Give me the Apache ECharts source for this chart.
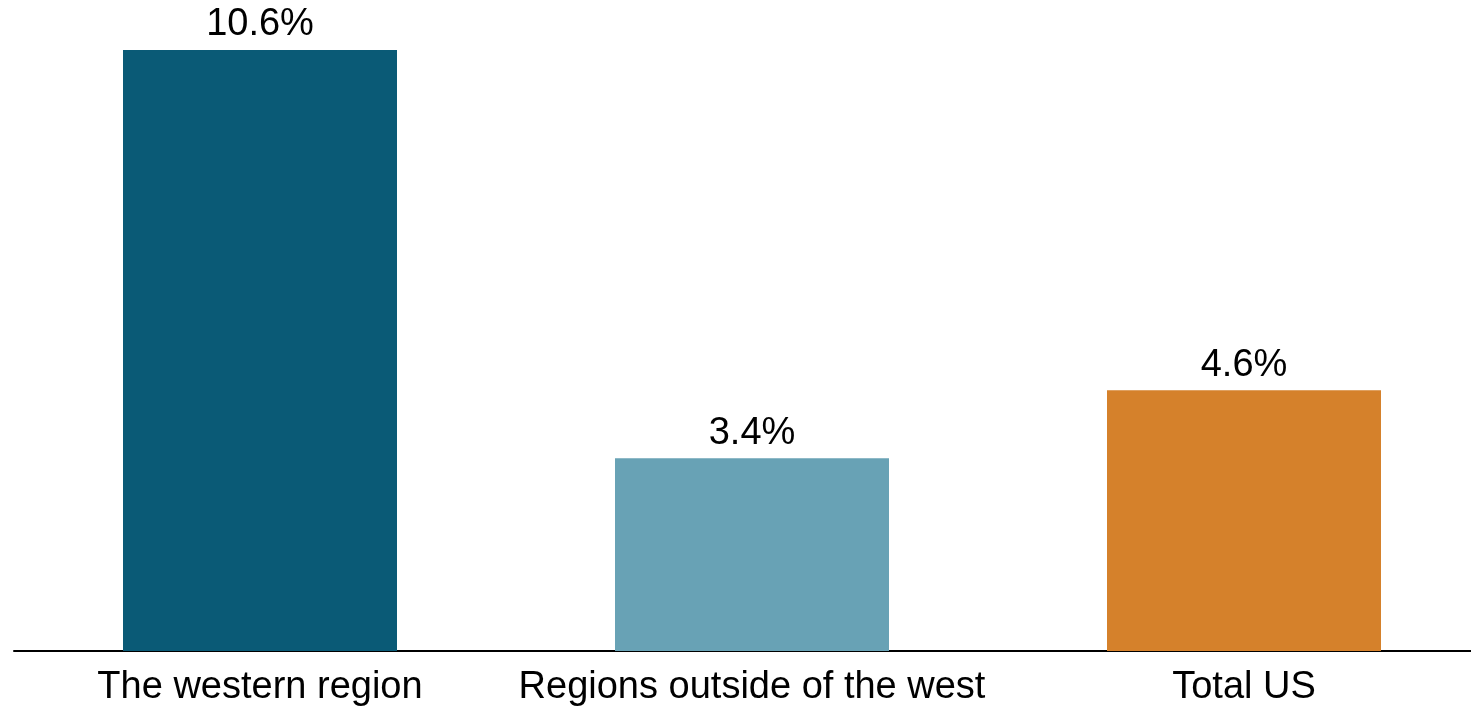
<!DOCTYPE html>
<html>
<head>
<meta charset="utf-8">
<script src="https://cdn.jsdelivr.net/npm/echarts@6/dist/echarts.min.js"></script>
<style>
  html, body { margin: 0; padding: 0; background: #ffffff; overflow: hidden; }
  /* canvas runs a little past the right edge so the axis line reaches the border */
  #chart { width: 1490px; height: 710px; }
</style>
</head>
<body>
<div id="chart"></div>
<script>
// Share values by region (percent)
const categories = ['The western region', 'Regions outside of the west', 'Total US'];
const values = [10.6, 3.4, 4.6];
const barColors = ['#0a5a76', '#68a2b5', '#d5812b'];

const chart = echarts.init(document.getElementById('chart'));
chart.setOption({
  animation: false,
  backgroundColor: '#ffffff',
  grid: { left: 14, right: 0, top: 50, bottom: 59, containLabel: false },
  xAxis: {
    type: 'category',
    data: categories,
    axisLine: { show: true, lineStyle: { color: '#000000', width: 2 } },
    axisTick: { show: false },
    axisLabel: {
      interval: 0,
      hideOverlap: false,
      color: '#000000',
      fontFamily: 'Liberation Sans, Arial, sans-serif',
      fontSize: 38,
      margin: 18
    }
  },
  yAxis: {
    type: 'value',
    min: 0,
    max: 10.6,
    show: false,
    splitLine: { show: false }
  },
  series: [{
    type: 'bar',
    barWidth: 274,
    data: values.map((v, i) => ({ value: v, itemStyle: { color: barColors[i] } })),
    label: {
      show: true,
      position: 'top',
      distance: 6,
      color: '#000000',
      fontFamily: 'Liberation Sans, Arial, sans-serif',
      fontSize: 38,
      formatter: p => p.value.toFixed(1) + '%'
    }
  }]
});
</script>
</body>
</html>
